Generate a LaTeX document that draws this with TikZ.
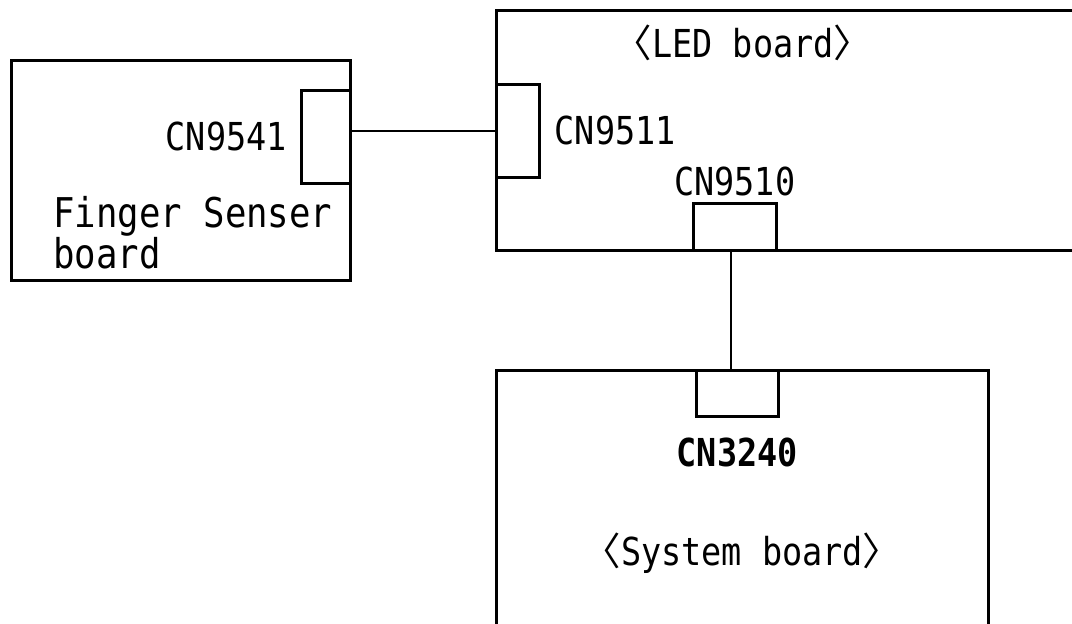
\documentclass[tikz,border=0pt]{standalone}
\usepackage{fontspec}
\usepackage{tikz}
\usetikzlibrary{positioning}
\newfontfamily\boardfont[FakeStretch=0.87]{DejaVu Sans Mono}
\newfontfamily\cjk{Noto Sans CJK JP}

\begin{document}
\begin{tikzpicture}[x=1pt,y=-1pt,line width=2.5pt,
    board/.style={draw,inner sep=0,anchor=north west},
    conn/.style={draw,fill=white,inner sep=0,anchor=north west},
    lbl/.style={inner sep=0,font=\boardfont\fontsize{38.5}{36}\selectfont}]

    \useasboundingbox (0,0) rectangle (1072,624);
    \clip (0,0) rectangle (1072,624);

    % boards
    \node[board,minimum width=339pt,minimum height=220pt] (fsb) at (10,59) {};
    \node[board,minimum width=640pt,minimum height=240pt] (led) at (495,9) {};
    \node[board,minimum width=492pt,minimum height=300pt] (sys) at (495,369) {};

    % connectors
    \node[conn,minimum width=49pt,minimum height=93pt] (cn9541) at (300,89) {};
    \node[conn,minimum width=43pt,minimum height=93pt] (cn9511) at (495,83) {};
    \node[conn,minimum width=83pt,minimum height=47pt] (cn9510) at (692,202) {};
    \node[conn,minimum width=82pt,minimum height=46pt] (cn3240) at (695,369) {};

    % labels
    \node[lbl] (l9541) [left=12pt of cn9541] {CN9541};
    \node[lbl] (l9511) [right=13pt of cn9511] {CN9511};
    \node[lbl] (l9510) [above=5pt of cn9510] {CN9510};
    \node[lbl,font=\boardfont\bfseries\fontsize{38.5}{36}\selectfont] (l3240) [below=19pt of cn3240] {CN3240};
    \node[lbl,align=left,anchor=west,font=\boardfont\fontsize{41}{36}\selectfont] (fsblbl) at (52,233) {Finger Senser\\board};
    \node[lbl] (ledlbl) at (743,43) {{\cjk 〈}LED board{\cjk 〉}};
    \node[lbl] (syslbl) at (742,553) {{\cjk 〈}System board{\cjk 〉}};

    \draw (cn9511.west) -- (cn9511.west -| cn9541.east);
    \draw ([xshift=-4pt]cn9510.south) -- ([xshift=-4pt]cn9510.south |- cn3240.north);
\end{tikzpicture}
\end{document}
